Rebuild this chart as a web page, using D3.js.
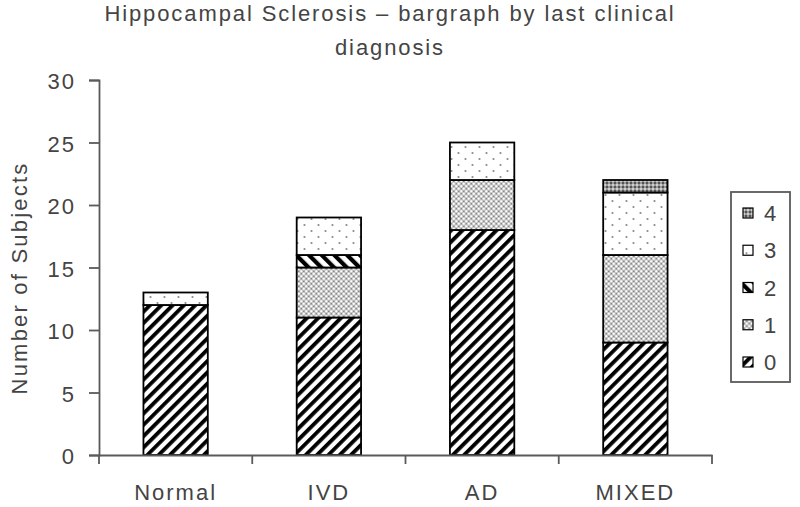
<!DOCTYPE html>
<html><head><meta charset="utf-8">
<script src="https://cdn.jsdelivr.net/npm/d3@7"></script>
<style>body{margin:0;background:#fff}svg{display:block}</style>
</head><body>
<svg id="c" width="800" height="507"></svg>
<script>
const categories = ["Normal","IVD","AD","MIXED"];
const seriesKeys = ["0","1","2","3","4"];
const s0 = [12,11,18,9];
const s1 = [0,4,4,7];
const s2 = [0,1,0,0];
const s3 = [1,3,3,5];
const s4 = [0,0,0,1];
const yTicks = [0,5,10,15,20,25,30];
const titleLines = ["Hippocampal Sclerosis \u2013 bargraph by last clinical","diagnosis"];
const yLabel = "Number of Subjects";

const seriesVals = [s0,s1,s2,s3,s4];
const rows = categories.map((c,i)=>{const r={cat:c};seriesKeys.forEach((k,j)=>r[k]=seriesVals[j][i]);return r;});

const svg = d3.select("#c");
const font = "Liberation Sans, Arial, sans-serif";
const axisCol = "#5a5a5a";
const textCol = "#444";
const defs = svg.append("defs");

// pattern 0: "/" hatch
const p0 = defs.append("pattern").attr("id","p0").attr("patternUnits","userSpaceOnUse")
  .attr("width",8).attr("height",8).attr("patternTransform","rotate(45)");
p0.append("rect").attr("width",8).attr("height",8).attr("fill","#fff");
p0.append("rect").attr("x",0).attr("width",3.8).attr("height",8).attr("fill","#000");
// pattern 1: fine grey dots
const p1 = defs.append("pattern").attr("id","p1").attr("patternUnits","userSpaceOnUse")
  .attr("width",5).attr("height",5);
p1.append("rect").attr("width",5).attr("height",5).attr("fill","#c4c4c4");
p1.append("circle").attr("cx",1.25).attr("cy",1.25).attr("r",1.1).attr("fill","#fff");
p1.append("circle").attr("cx",3.75).attr("cy",3.75).attr("r",1.1).attr("fill","#fff");
p1.append("rect").attr("x",3.2).attr("y",0.8).attr("width",1.2).attr("height",1).attr("fill","#666");
p1.append("rect").attr("x",0.7).attr("y",3.3).attr("width",1.2).attr("height",1).attr("fill","#666");
// pattern 2: "\" hatch
const p2 = defs.append("pattern").attr("id","p2").attr("patternUnits","userSpaceOnUse")
  .attr("width",9).attr("height",9).attr("patternTransform","rotate(-45)");
p2.append("rect").attr("width",9).attr("height",9).attr("fill","#fff");
p2.append("rect").attr("x",0).attr("width",4.2).attr("height",9).attr("fill","#000");
// pattern 3: sparse dots
const p3 = defs.append("pattern").attr("id","p3").attr("patternUnits","userSpaceOnUse")
  .attr("width",14).attr("height",12);
p3.append("rect").attr("width",14).attr("height",12).attr("fill","#fff");
p3.append("circle").attr("cx",3.5).attr("cy",3).attr("r",1.1).attr("fill","#8a8a8a");
p3.append("circle").attr("cx",10.5).attr("cy",9).attr("r",1.1).attr("fill","#8a8a8a");
// pattern 4: dense dark dots
const p4 = defs.append("pattern").attr("id","p4").attr("patternUnits","userSpaceOnUse")
  .attr("width",4).attr("height",4);
p4.append("rect").attr("width",4).attr("height",4).attr("fill","#9a9a9a");
p4.append("circle").attr("cx",1).attr("cy",1).attr("r",0.9).attr("fill","#e8e8e8");
p4.append("circle").attr("cx",3).attr("cy",3).attr("r",0.9).attr("fill","#333");

const fills = {"0":"url(#p0)","1":"url(#p1)","2":"url(#p2)","3":"url(#p3)","4":"url(#p4)"};

const plot = {left:99, right:712, top:80, bottom:455};
const x = d3.scaleBand().domain(categories).range([plot.left, plot.right]).paddingInner(0).paddingOuter(0);
const y = d3.scaleLinear().domain([0,30]).range([plot.bottom, plot.top]);
const barW = x.bandwidth()*0.42;

const stacked = d3.stack().keys(seriesKeys)(rows);

// bars
const g = svg.append("g");
stacked.forEach(layer=>{
  g.selectAll(null).data(layer.filter(d=>d[1]-d[0]>0)).enter().append("rect")
    .attr("x",d=>x(d.data.cat)+(x.bandwidth()-barW)/2)
    .attr("y",d=>y(d[1]))
    .attr("width",barW)
    .attr("height",d=>y(d[0])-y(d[1]))
    .attr("fill",fills[layer.key])
    .attr("stroke","#000").attr("stroke-width",1.8);
});

// y axis
const yAxis = svg.append("g").attr("transform",`translate(${plot.left},0)`)
  .call(d3.axisLeft(y).tickValues(yTicks).tickSize(10).tickPadding(13));
yAxis.select(".domain").attr("stroke",axisCol).attr("stroke-width",1.8);
yAxis.selectAll(".tick line").attr("stroke",axisCol).attr("stroke-width",1.8);
yAxis.selectAll("text").attr("font-family",font).attr("font-size",22)
  .attr("letter-spacing",2).attr("fill",textCol).attr("dy","0.4em");

// x axis
const xAxis = svg.append("g").attr("transform",`translate(0,${plot.bottom})`)
  .call(d3.axisBottom(x).tickSize(0).tickPadding(45));
xAxis.select(".domain").attr("stroke",axisCol).attr("stroke-width",1.8);
xAxis.selectAll("text").attr("font-family",font).attr("font-size",22)
  .attr("letter-spacing",2).attr("fill",textCol).attr("dy","0");
// category boundary ticks
const bounds = categories.map(c=>x(c)).concat([x(categories[categories.length-1])+x.bandwidth()]);
xAxis.selectAll(".btick").data(bounds).enter().append("line")
  .attr("x1",d=>d).attr("x2",d=>d).attr("y1",0).attr("y2",9)
  .attr("stroke",axisCol).attr("stroke-width",1.8);

// y label
svg.append("text").attr("transform",`translate(27,278) rotate(-90)`)
  .attr("text-anchor","middle").attr("font-family",font).attr("font-size",22)
  .attr("letter-spacing",2.2).attr("fill",textCol)
  .text(yLabel);

// title
svg.append("g").selectAll("text").data(titleLines).enter().append("text")
  .attr("x",390).attr("y",(d,i)=>21+i*34).attr("text-anchor","middle")
  .attr("font-family",font).attr("font-size",22).attr("letter-spacing",1.9)
  .attr("fill",textCol).text(d=>d);

// legend
const lg = svg.append("g");
lg.append("rect").attr("x",731).attr("y",192).attr("width",59).attr("height",190)
  .attr("fill","#fff").attr("stroke",axisCol).attr("stroke-width",1.8);
const legKeys = seriesKeys.slice().reverse();
const ly = d3.scalePoint().domain(legKeys).range([213,362]);
const li = lg.selectAll("g.li").data(legKeys).enter().append("g").attr("class","li")
  .attr("transform",d=>`translate(743,${ly(d)})`);
li.append("rect").attr("x",0).attr("y",-5).attr("width",10).attr("height",10)
  .attr("fill",d=>fills[d]).attr("stroke","#000").attr("stroke-width",1.2);
li.append("text").attr("x",21).attr("y",8).attr("font-family",font).attr("font-size",22)
  .attr("fill",textCol).text(d=>d);
</script>
</body></html>
